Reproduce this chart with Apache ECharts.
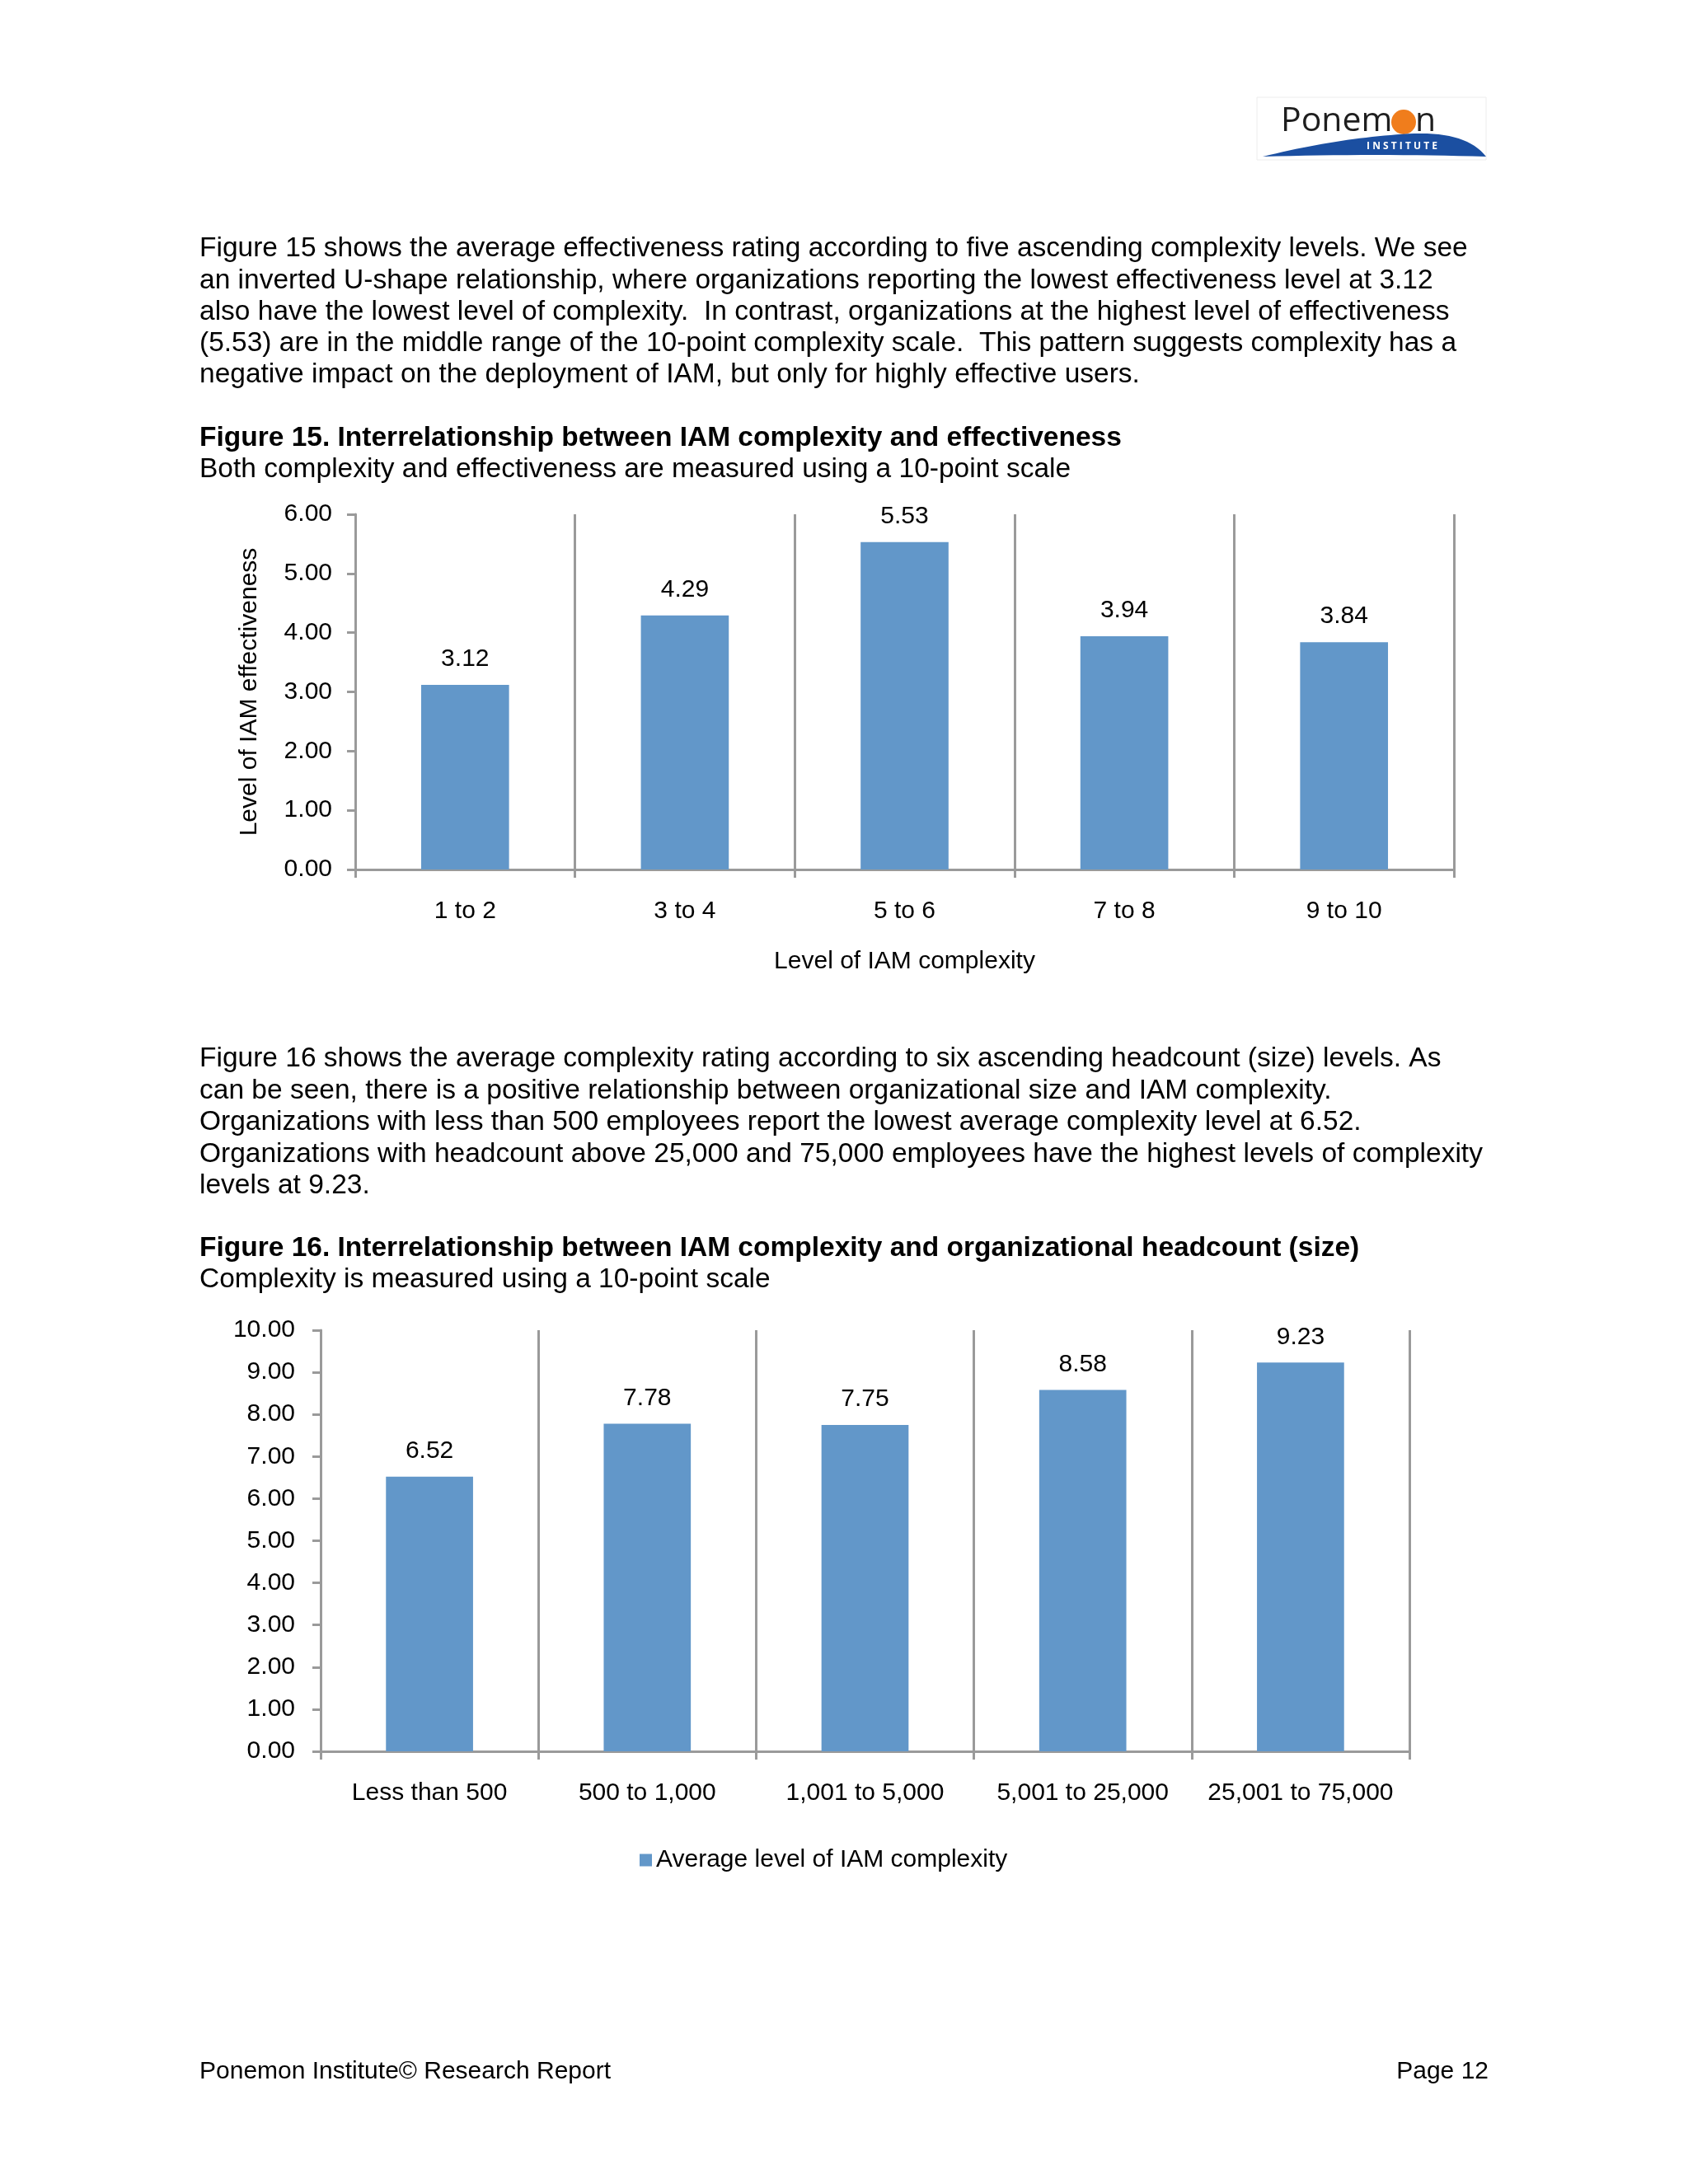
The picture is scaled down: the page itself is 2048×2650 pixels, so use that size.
<!DOCTYPE html>
<html>
<head>
<meta charset="utf-8">
<script src="https://cdn.jsdelivr.net/npm/echarts@6/dist/echarts.min.js"></script>
<style>
html,body{margin:0;padding:0;background:#fff;}
#page{width:2048px;height:2650px;}
</style>
</head>
<body>
<div id="page"></div>
<script>
// ---- data ----
const fig15Categories = ['1 to 2', '3 to 4', '5 to 6', '7 to 8', '9 to 10'];
const fig15Values = [3.12, 4.29, 5.53, 3.94, 3.84];
const fig15YTicks = { min: 0, max: 6, interval: 1 };

const fig16Categories = ['Less than 500', '500 to 1,000', '1,001 to 5,000', '5,001 to 25,000', '25,001 to 75,000'];
const fig16Values = [6.52, 7.78, 7.75, 8.58, 9.23];
const fig16YTicks = { min: 0, max: 10, interval: 1 };
const fig16SeriesName = 'Average level of IAM complexity';

const para1 = [
  'Figure 15 shows the average effectiveness rating according to five ascending complexity levels. We see',
  'an inverted U-shape relationship, where organizations reporting the lowest effectiveness level at 3.12',
  'also have the lowest level of complexity.  In contrast, organizations at the highest level of effectiveness',
  '(5.53) are in the middle range of the 10-point complexity scale.  This pattern suggests complexity has a',
  'negative impact on the deployment of IAM, but only for highly effective users.'
];
const title1 = 'Figure 15. Interrelationship between IAM complexity and effectiveness';
const sub1 = 'Both complexity and effectiveness are measured using a 10-point scale';
const para2 = [
  'Figure 16 shows the average complexity rating according to six ascending headcount (size) levels. As',
  'can be seen, there is a positive relationship between organizational size and IAM complexity.',
  'Organizations with less than 500 employees report the lowest average complexity level at 6.52.',
  'Organizations with headcount above 25,000 and 75,000 employees have the highest levels of complexity',
  'levels at 9.23.'
];
const title2 = 'Figure 16. Interrelationship between IAM complexity and organizational headcount (size)';
const sub2 = 'Complexity is measured using a 10-point scale';
const footerLeft = 'Ponemon Institute\u00A9 Research Report';
const footerRight = 'Page 12';

// ---- style ----
const FONT = "'Liberation Sans', Arial, Helvetica, sans-serif";
const BODY = 33.5;
const FOOT = 30;
const CH = 30;
const BAR = '#6297c9';
const AX = '#9a9a9a';

function textEl(text, x, y, opts) {
  opts = opts || {};
  return {
    type: 'text', x: x, y: y, silent: true,
    style: {
      text: text, fill: '#000', font: (opts.bold ? 'bold ' : '') + (opts.size || BODY) + 'px ' + FONT,
      textAlign: opts.align || 'left', textVerticalAlign: 'middle'
    }
  };
}
function linesEl(lines, x, y0, lh) {
  return lines.map((t, i) => textEl(t, x, y0 + i * lh));
}
// quadratic curve sampler for the logo swoosh outline
function quad(p0, p1, p2, n) {
  const pts = [];
  for (let i = 0; i <= n; i++) {
    const t = i / n, a = (1 - t) * (1 - t), b = 2 * (1 - t) * t, c = t * t;
    pts.push([a * p0[0] + b * p1[0] + c * p2[0], a * p0[1] + b * p1[1] + c * p2[1]]);
  }
  return pts;
}

const graphics = [];
// logo
graphics.push({ type: 'rect', shape: { x: 1525, y: 118, width: 278, height: 76 }, style: { fill: '#fff', stroke: '#ececec', lineWidth: 1 }, silent: true });
graphics.push({ type: 'text', x: 1554, y: 147, silent: true, style: { text: 'Ponem', fill: '#1e1e1e', font: "41px 'Open Sans', sans-serif", textAlign: 'left', textVerticalAlign: 'middle' } });
graphics.push({ type: 'text', x: 1717, y: 147, silent: true, style: { text: 'n', fill: '#1e1e1e', font: "41px 'Open Sans', sans-serif", textAlign: 'left', textVerticalAlign: 'middle' } });
graphics.push({ type: 'circle', shape: { cx: 1703, cy: 148, r: 15 }, style: { fill: '#f07d1c' }, silent: true });
const swoosh = [].concat(
  quad([1532, 190], [1630, 166], [1716, 162], 24),
  quad([1716, 162], [1780, 160], [1803, 190], 16),
  quad([1803, 190], [1670, 186], [1532, 190], 16)
);
graphics.push({ type: 'polygon', shape: { points: swoosh }, style: { fill: '#1b4fa1' }, silent: true });
graphics.push({ type: 'text', x: 1701, y: 178, silent: true, style: { text: 'I N S T I T U T E', fill: '#fff', font: "bold 12px 'Open Sans', sans-serif", textAlign: 'center', textVerticalAlign: 'middle' } });

// paragraphs
graphics.push(...linesEl(para1, 242, 302, 38.3));
graphics.push(textEl(title1, 242, 532, { bold: true }));
graphics.push(textEl(sub1, 242, 570));
graphics.push(...linesEl(para2, 242, 1285, 38.5));
graphics.push(textEl(title2, 242, 1515, { bold: true }));
graphics.push(textEl(sub2, 242, 1553));
graphics.push(textEl(footerLeft, 242, 2514, { size: FOOT }));
graphics.push(textEl(footerRight, 1806, 2514, { align: 'right', size: FOOT }));

function xAxisCfg(gridIndex, cats, extra) {
  return Object.assign({
    type: 'category', gridIndex: gridIndex, data: cats,
    axisLine: { show: true, lineStyle: { color: AX, width: 3 } },
    axisTick: { show: true, length: 10, lineStyle: { color: AX, width: 3 } },
    splitLine: { show: true, lineStyle: { color: AX, width: 3 } },
    axisLabel: { color: '#000', fontSize: CH, fontFamily: FONT, margin: 36, interval: 0 }
  }, extra || {});
}
function yAxisCfg(gridIndex, t, margin, extra) {
  return Object.assign({
    type: 'value', gridIndex: gridIndex, min: t.min, max: t.max, interval: t.interval,
    axisLine: { show: true, lineStyle: { color: AX, width: 3 } },
    axisTick: { show: true, length: 10, lineStyle: { color: AX, width: 3 } },
    splitLine: { show: false },
    axisLabel: { color: '#000', fontSize: CH, fontFamily: FONT, margin: margin, formatter: v => v.toFixed(2) }
  }, extra || {});
}
const labelCfg = { show: true, position: 'top', distance: 16, color: '#000', fontSize: CH, fontFamily: FONT, formatter: p => p.value.toFixed(2) };

const chart = echarts.init(document.getElementById('page'), null, { renderer: 'canvas', width: 2048, height: 2650 });
chart.setOption({
  backgroundColor: '#fff',
  animation: false,
  grid: [
    { left: 431, top: 624, width: 1333, height: 431 },
    { left: 389, top: 1614, width: 1321, height: 511 }
  ],
  xAxis: [
    xAxisCfg(0, fig15Categories, {
      name: 'Level of IAM complexity', nameLocation: 'middle', nameGap: 97,
      nameTextStyle: { color: '#000', fontSize: CH, fontFamily: FONT }
    }),
    xAxisCfg(1, fig16Categories)
  ],
  yAxis: [
    yAxisCfg(0, fig15YTicks, 28, {
      name: 'Level of IAM effectiveness', nameLocation: 'middle', nameGap: 113, nameRotate: 90,
      nameTextStyle: { color: '#000', fontSize: CH, fontFamily: FONT }
    }),
    yAxisCfg(1, fig16YTicks, 31)
  ],
  legend: {
    data: [fig16SeriesName], left: 776, top: 2242, padding: 0,
    icon: 'rect', itemWidth: 15, itemHeight: 15, itemGap: 10,
    textStyle: { color: '#000', fontSize: CH, fontFamily: FONT }
  },
  series: [
    { name: 'Level of IAM effectiveness', type: 'bar', xAxisIndex: 0, yAxisIndex: 0, data: fig15Values, barWidth: '40%', itemStyle: { color: BAR }, label: labelCfg },
    { name: fig16SeriesName, type: 'bar', xAxisIndex: 1, yAxisIndex: 1, data: fig16Values, barWidth: '40%', itemStyle: { color: BAR }, label: labelCfg }
  ],
  graphic: graphics
});
</script>
</body>
</html>
